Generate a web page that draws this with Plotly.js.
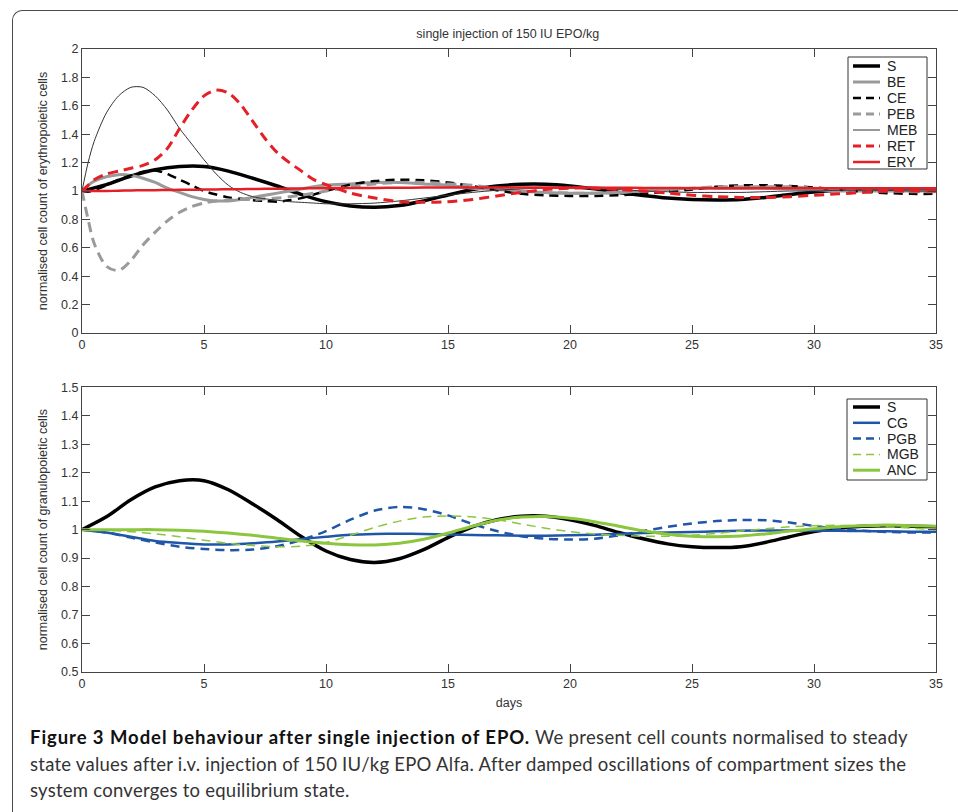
<!DOCTYPE html>
<html><head><meta charset="utf-8">
<script src="https://cdn.plot.ly/plotly-3.0.1.min.js"></script>
<style>
html,body{margin:0;padding:0;background:#fff;}
#wrap{position:relative;width:958px;height:812px;overflow:hidden;background:#fff;}
#frame{position:absolute;left:12px;top:10px;width:990px;height:860px;border-left:1.5px solid #4a4a4a;border-top:1.5px solid #4a4a4a;border-top-left-radius:10px;box-sizing:border-box;}
#chart{position:absolute;left:0;top:0;width:958px;height:812px;}
#caption{position:absolute;left:30px;top:724px;font-family:Lato,"Open Sans",sans-serif;font-size:18.5px;line-height:26.5px;color:#333;white-space:nowrap;}
#caption b{color:#111;font-weight:700;}
</style></head><body>
<div id="wrap">
<div id="frame"></div>
<div id="chart"></div>
<div id="caption"><b id="capB">Figure 3 Model behaviour after single injection of EPO.</b><span id="capR1"> We present cell counts normalised to steady</span><br><span id="capL2">state values after i.v. injection of 150 IU/kg EPO Alfa. After damped oscillations of compartment sizes the</span><br><span id="capL3">system converges to equilibrium state.</span></div>
</div>
<script>
// time grids (days)
const daysTop = [0,0.25,0.5,1,1.5,2,2.5,3,3.5,4,4.5,5,5.5,6,6.5,7,7.5,8,8.5,9,9.5,10,
  11,12,13,14,15,16,17,18,19,20,21,22,23,24,25,26,27,28,29,30,31,32,33,34,35];
const days = [0,1,2,3,4,5,6,7,8,9,10,11,12,13,14,15,16,17,18,19,20,21,22,23,24,25,26,27,28,29,30,31,32,33,34,35];

// erythropoietic compartments (top panel)
const S   = [1.0,1.045,1.105,1.15,1.172,1.172,1.14,1.09,1.035,0.975,0.925,0.895,0.885,0.898,0.93,0.972,1.01,1.035,1.047,1.047,1.035,1.015,0.99,0.968,0.95,0.94,0.937,0.94,0.955,0.975,0.993,1.005,1.012,1.014,1.012,1.01];
const BE  = [1.0,1.04,1.07,1.1,1.115,1.11,1.09,1.06,1.02,0.99,0.96,0.94,0.93,0.93,0.94,0.955,0.97,0.985,1.0,1.015,1.03,1.04,
  1.05,1.06,1.06,1.05,1.04,1.02,1.01,1.0,0.99,0.985,0.985,0.99,1.0,1.01,1.02,1.02,1.02,1.02,1.015,1.01,1.0,1.0,1.0,1.0,1.0];
const CE  = [1.0,0.995,1.005,1.04,1.08,1.11,1.135,1.145,1.12,1.08,1.04,1.0,0.975,0.955,0.945,0.935,0.93,0.925,0.935,0.95,0.975,1.0,
  1.045,1.07,1.08,1.075,1.06,1.035,1.005,0.98,0.97,0.965,0.965,0.97,0.98,0.995,1.01,1.03,1.04,1.04,1.035,1.025,1.01,0.995,0.985,0.98,0.98];
const PEB = [1.0,0.8,0.63,0.47,0.44,0.51,0.62,0.71,0.79,0.85,0.89,0.915,0.93,0.935,0.94,0.94,0.945,0.95,0.96,0.97,0.985,1.0,
  1.03,1.05,1.06,1.06,1.05,1.04,1.02,1.0,0.99,0.985,0.985,0.99,1.0,1.01,1.02,1.03,1.03,1.03,1.03,1.02,1.01,1.0,1.0,0.995,0.995];
const MEB = [1.0,1.2,1.35,1.55,1.67,1.73,1.73,1.67,1.57,1.44,1.33,1.22,1.12,1.04,0.99,0.96,0.945,0.935,0.925,0.92,0.915,0.91,
  0.91,0.915,0.93,0.95,0.97,0.99,1.005,1.015,1.02,1.02,1.015,1.01,1.0,0.995,0.99,0.99,0.99,0.995,1.0,1.0,1.005,1.005,1.005,1.0,1.0];
const RET = [1.0,1.04,1.08,1.12,1.14,1.16,1.18,1.22,1.3,1.44,1.57,1.67,1.71,1.69,1.61,1.49,1.37,1.27,1.2,1.14,1.08,1.045,
  0.985,0.95,0.925,0.92,0.925,0.94,0.965,0.99,1.01,1.02,1.02,1.01,1.0,0.985,0.97,0.96,0.955,0.955,0.96,0.97,0.98,0.99,1.0,1.0,1.0];
const ERY = [1.0,1.0,1.0,1.0,1.002,1.004,1.005,1.006,1.007,1.008,1.009,1.01,1.011,1.012,1.013,1.014,1.015,1.016,1.017,1.018,1.019,1.02,
  1.021,1.022,1.023,1.024,1.025,1.025,1.025,1.025,1.025,1.025,1.024,1.023,1.022,1.021,1.02,1.02,1.02,1.02,1.02,1.02,1.02,1.02,1.02,1.02,1.02];

// granulopoietic compartments (bottom panel)
const CG  = [1.0,0.99,0.975,0.96,0.953,0.948,0.948,0.952,0.958,0.967,0.975,0.982,0.985,0.986,0.985,0.983,0.981,0.98,0.979,0.979,0.98,0.982,0.985,0.988,0.99,0.992,0.994,0.996,0.997,0.997,0.997,0.996,0.995,0.994,0.993,0.993];
const PGB = [1.0,0.99,0.972,0.955,0.94,0.932,0.928,0.93,0.942,0.964,0.995,1.035,1.067,1.08,1.072,1.05,1.02,0.995,0.977,0.968,0.965,0.968,0.98,0.995,1.01,1.022,1.03,1.034,1.033,1.025,1.013,1.003,0.996,0.992,0.99,0.99];
const MGB = [1.0,0.998,0.993,0.985,0.975,0.963,0.952,0.944,0.94,0.942,0.955,0.98,1.008,1.03,1.044,1.048,1.045,1.035,1.02,1.005,0.993,0.985,0.98,0.977,0.977,0.98,0.987,0.995,1.003,1.01,1.014,1.015,1.013,1.01,1.005,1.0];
const ANC = [1.0,1.0,1.0,1.0,0.998,0.994,0.988,0.98,0.97,0.96,0.952,0.947,0.946,0.952,0.966,0.988,1.012,1.033,1.044,1.046,1.04,1.028,1.012,0.996,0.984,0.977,0.975,0.978,0.985,0.995,1.003,1.01,1.014,1.016,1.014,1.012];

const topTicksY = [0,0.2,0.4,0.6,0.8,1,1.2,1.4,1.6,1.8,2];
const botTicksY = [0.5,0.6,0.7,0.8,0.9,1,1.1,1.2,1.3,1.4,1.5];
const ticksX = [0,5,10,15,20,25,30,35];
const topNames = ['S','BE','CE','PEB','MEB','RET','ERY'];
const botNames = ['S','CG','PGB','MGB','ANC'];

const RED = '#e41f26', BLUE = '#1f56a8', GREEN = '#8cc63f', GRAY = '#9a9a9a';
const style = {
  S:   {color: '#000', width: 3.5, dash: 'solid'},
  BE:  {color: GRAY, width: 3, dash: 'solid'},
  CE:  {color: '#000', width: 2.5, dash: '9px,6px'},
  PEB: {color: GRAY, width: 3, dash: '10px,6px'},
  MEB: {color: '#333', width: 1, dash: 'solid'},
  RET: {color: RED, width: 3, dash: '10px,6px'},
  ERY: {color: RED, width: 2.5, dash: 'solid'},
  CG:  {color: BLUE, width: 2.5, dash: 'solid'},
  PGB: {color: BLUE, width: 2.5, dash: '9px,6px'},
  MGB: {color: GREEN, width: 1.5, dash: '9px,6px'},
  ANC: {color: GREEN, width: 3, dash: 'solid'}
};
const topVals = {S: [days, S], BE: [daysTop, BE], CE: [daysTop, CE], PEB: [daysTop, PEB], MEB: [daysTop, MEB], RET: [daysTop, RET], ERY: [daysTop, ERY]};
const botVals = {S: [days, S], CG: [days, CG], PGB: [days, PGB], MGB: [days, MGB], ANC: [days, ANC]};

function tr(name, xy, ax) {
  const st = style[name];
  return {x: xy[0], y: xy[1], name: name, type: 'scatter', mode: 'lines', showlegend: false,
    line: {color: st.color, width: st.width, dash: st.dash, shape: 'spline', smoothing: 0.8},
    xaxis: ax === 2 ? 'x2' : 'x', yaxis: ax === 2 ? 'y2' : 'y', hoverinfo: 'skip'};
}
const data = topNames.map(n => tr(n, topVals[n], 1)).concat(botNames.map(n => tr(n, botVals[n], 2)));

// figure geometry (pixels) -> paper coordinates
const W = 958, H = 812, ML = 82, MR = 22, MT = 49, MB = 140;
const PW = W - ML - MR, PH = H - MT - MB;
const px = v => (v - ML) / PW;
const py = v => (H - MB - v) / PH;

const axFont = {family: 'Liberation Sans, Arial, sans-serif', size: 12.5, color: '#333'};
const legFont = {family: 'Liberation Sans, Arial, sans-serif', size: 14, color: '#222'};

// compact MATLAB-style legend boxes
const shapes = [], annotations = [];
function legend(names, box, firstY, step) {
  shapes.push({type: 'rect', xref: 'paper', yref: 'paper', x0: px(box[0]), x1: px(box[1]), y0: py(box[2]), y1: py(box[3]),
    line: {color: '#333', width: 1}, fillcolor: '#fff', layer: 'above'});
  names.forEach((n, i) => {
    const st = style[n], cy = firstY + i * step;
    shapes.push({type: 'line', xref: 'paper', yref: 'paper', x0: px(853), x1: px(880), y0: py(cy), y1: py(cy),
      line: {color: st.color, width: st.width, dash: st.dash === 'solid' ? 'solid' : '8px,5px'}, layer: 'above'});
    annotations.push({xref: 'paper', yref: 'paper', x: px(885), y: py(cy), xanchor: 'left', yanchor: 'middle',
      text: n, showarrow: false, font: legFont});
  });
}
legend(topNames, [848, 927, 57, 169], 66, 16);
legend(botNames, [847, 927, 399, 480], 407, 15.8);

function xax(anchor, showTitle) {
  const a = {range: [0, 35], tickvals: ticksX, ticks: 'inside', ticklen: 8, tickcolor: '#444',
    showline: true, linecolor: '#444', linewidth: 1, mirror: 'ticks', showgrid: false, zeroline: false,
    tickfont: axFont, anchor: anchor};
  if (showTitle) a.title = {text: 'days', font: axFont, standoff: 8};
  return a;
}
function yax(range, vals, domain, anchor, title) {
  return {range: range, tickvals: vals, domain: domain, anchor: anchor, ticks: 'inside', ticklen: 8, tickcolor: '#444',
    showline: true, linecolor: '#444', linewidth: 1, mirror: 'ticks', showgrid: false, zeroline: false,
    tickfont: axFont, title: {text: title, font: axFont, standoff: 10}};
}

const layout = {
  width: W, height: H,
  margin: {l: ML, r: MR, t: MT, b: MB},
  paper_bgcolor: 'rgba(0,0,0,0)', plot_bgcolor: 'rgba(0,0,0,0)',
  showlegend: false,
  title: {text: 'single injection of 150 IU EPO/kg', font: axFont, x: 0.53, xanchor: 'center', y: 0.958, yanchor: 'middle'},
  xaxis: xax('y', false),
  yaxis: yax([0, 2], topTicksY, [py(333), 1], 'x', 'normalised cell count of erythropoietic cells'),
  xaxis2: xax('y2', true),
  yaxis2: yax([0.5, 1.5], botTicksY, [0, py(387.3)], 'x2', 'normalised cell count of granulopoietic cells'),
  shapes: shapes, annotations: annotations
};

Plotly.newPlot('chart', data, layout, {staticPlot: true, displayModeBar: false});

// fit caption segments to the reference measure via letter-spacing
function fit(id, target) {
  const el = document.getElementById(id);
  const w = el.getBoundingClientRect().width;
  const n = el.textContent.length;
  const ls = (target - w) / n;
  el.style.letterSpacing = ls + 'px';
  return ls;
}
fit('capB', 500);
const rb = document.getElementById('capB').getBoundingClientRect().right;
fit('capR1', 908 - rb);
const ls2 = fit('capL2', 876);
document.getElementById('capL3').style.letterSpacing = ls2 + 'px';
</script>
</body></html>
